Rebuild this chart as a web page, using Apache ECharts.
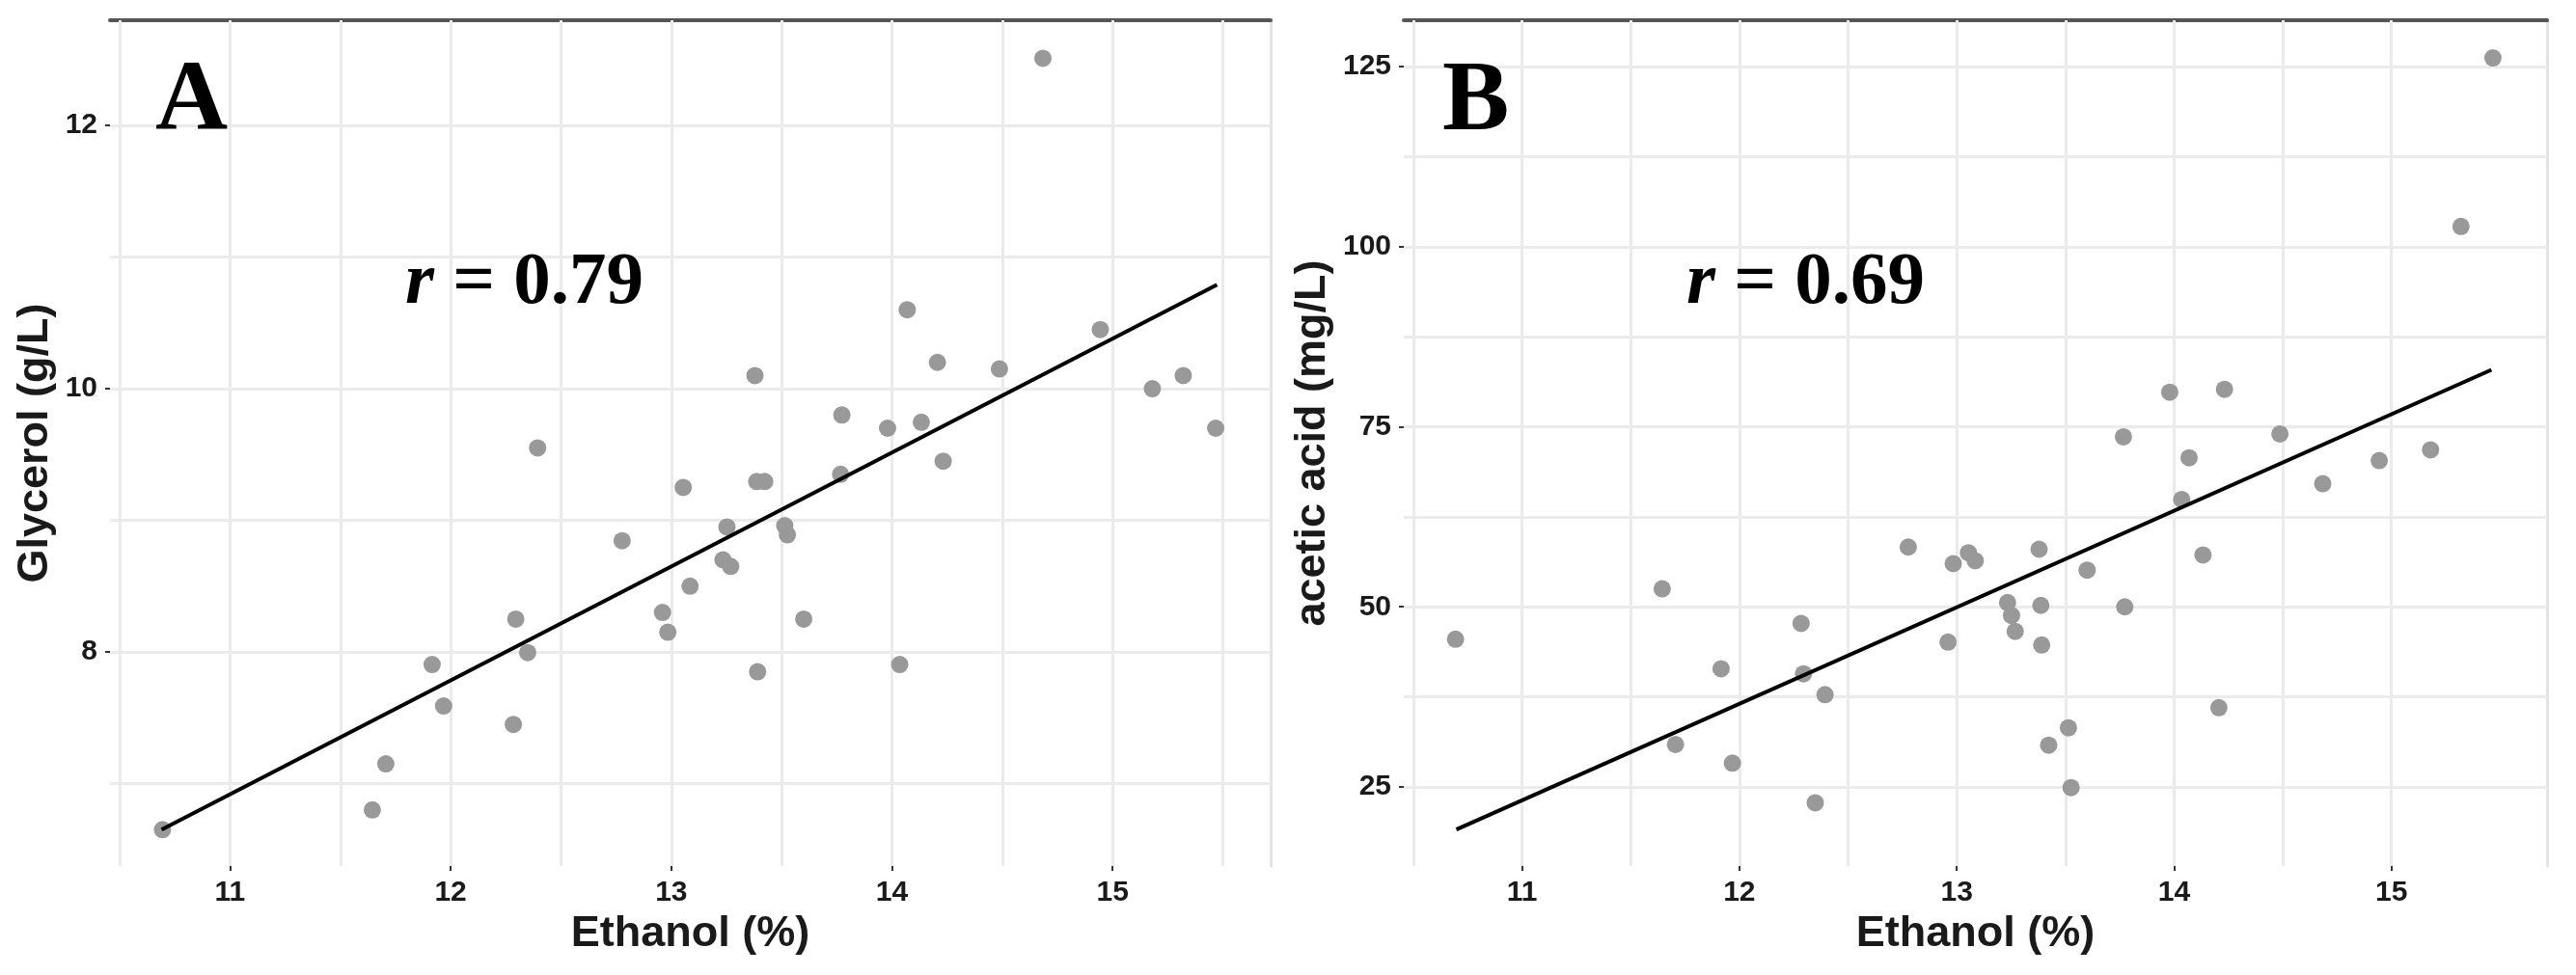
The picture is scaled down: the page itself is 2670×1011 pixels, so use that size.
<!DOCTYPE html>
<html><head><meta charset="utf-8">
<script src="https://cdn.jsdelivr.net/npm/echarts@6/dist/echarts.min.js"></script>
<style>html,body{margin:0;padding:0;background:#fff}#chart{width:2670px;height:1011px}</style>
</head><body><div id="chart"></div><script>
// ---- data ----
const ethanol = [10.694, 11.645, 11.706, 11.916, 11.968, 12.284, 12.295, 12.349, 12.394, 12.777,
  12.960, 12.984, 13.054, 13.085, 13.234, 13.252, 13.269, 13.379, 13.387, 13.391,
  13.423, 13.514, 13.526, 13.600, 13.767, 13.773, 13.980, 14.035, 14.069, 14.133,
  14.206, 14.232, 14.487, 14.684, 14.944, 15.180, 15.320, 15.467];
const glycerol = [6.65, 6.80, 7.15, 7.905, 7.59, 7.45, 8.25, 7.995, 9.55, 8.845,
  8.30, 8.15, 9.25, 8.50, 8.70, 8.95, 8.65, 10.10, 9.295, 7.85,
  9.295, 8.96, 8.89, 8.25, 9.35, 9.80, 9.70, 7.905, 10.60, 9.745,
  10.20, 9.45, 10.15, 12.51, 10.45, 10.00, 10.10, 9.70];
const aceticAcid = [45.5, 52.5, 30.9, 41.4, 28.3, 47.7, 40.7, 22.8, 37.8, 58.3,
  45.1, 56.0, 57.5, 56.4, 50.6, 48.8, 46.6, 58.0, 50.2, 44.7,
  30.8, 33.2, 24.9, 55.1, 73.6, 50.0, 79.8, 64.9, 70.7, 57.2,
  36.0, 80.2, 74.0, 67.1, 70.3, 71.8, 102.8, 126.2];
// fitted regression lines (end points)
const fitGlycerolX = [10.690, 15.473];
const fitGlycerolY = [6.65, 10.79];
const fitAceticX = [10.698, 15.460];
const fitAceticY = [19.1, 82.9];
// ticks and grid values
const xTicks = [11, 12, 13, 14, 15];
const xGridA = [10.5, 11, 11.5, 12, 12.5, 13, 13.5, 14, 14.5, 15, 15.5];
const xGridB = [10.5, 11, 11.5, 12, 12.5, 13, 13.5, 14, 14.5, 15];
const yTicksA = [8, 10, 12];
const yGridA = [7, 8, 9, 10, 11, 12];
const yTicksB = [25, 50, 75, 100, 125];
const yGridB = [25, 37.5, 50, 62.5, 75, 87.5, 100, 112.5, 125];
// axis limits
const xMin = 10.456, xMax = 15.716;
const yMinA = 6.374, yMaxA = 12.799;
const yMinB = 14.02, yMaxB = 131.43;

// ---- styles ----
const SANS = 'Liberation Sans, Arial, sans-serif';
const SERIF = 'Liberation Serif, Times New Roman, serif';
const gridColor = '#ebebeb';
const labelStyle = {fontSize: 30, fontWeight: 'bold', color: '#1a1a1a', fontFamily: SANS};
const nameStyle = {fontSize: 45, fontWeight: 'bold', color: '#1a1a1a', fontFamily: SANS};

function gridMarks(xs, ys) {
  return {
    silent: true, symbol: ['none', 'none'], z: 1, animation: false,
    label: {show: false},
    lineStyle: {color: gridColor, width: 3, type: 'solid'},
    emphasis: {disabled: true},
    data: xs.map(v => ({xAxis: v})).concat(ys.map(v => ({yAxis: v})))
  };
}
function bottomX(gi, name, gap) {
  return {
    gridIndex: gi, type: 'value', min: xMin, max: xMax, position: 'bottom',
    name: name, nameLocation: 'middle', nameGap: gap, nameTextStyle: nameStyle,
    axisLine: {show: false},
    axisTick: {show: true, customValues: xTicks, length: 5, lineStyle: {color: '#333', width: 2}},
    axisLabel: Object.assign({customValues: xTicks, margin: 13}, labelStyle),
    splitLine: {show: false}
  };
}
function topX(gi) {
  return {
    gridIndex: gi, type: 'value', min: xMin, max: xMax, position: 'top',
    axisLine: {show: true, lineStyle: {color: '#555', width: 4}},
    axisTick: {show: false}, axisLabel: {show: false}, splitLine: {show: false}
  };
}
function leftY(gi, min, max, ticks, name, gap) {
  return {
    gridIndex: gi, type: 'value', min: min, max: max, position: 'left',
    name: name, nameLocation: 'middle', nameGap: gap, nameTextStyle: nameStyle,
    axisLine: {show: false},
    axisTick: {show: true, customValues: ticks, length: 5, lineStyle: {color: '#333', width: 2}},
    axisLabel: Object.assign({customValues: ticks, margin: 13}, labelStyle),
    splitLine: {show: false}
  };
}
function rightY(gi, min, max) {
  return {
    gridIndex: gi, type: 'value', min: min, max: max, position: 'right',
    axisLine: {show: true, lineStyle: {color: '#e3e3e3', width: 3}},
    axisTick: {show: false}, axisLabel: {show: false}, splitLine: {show: false}
  };
}
function rTitle(text, left) {
  return {
    text: '{r|r} = ' + text, left: left, top: 256, padding: 0,
    textStyle: {fontFamily: SERIF, fontWeight: 'bold', fontSize: 77, color: '#000',
      rich: {r: {fontFamily: SERIF, fontWeight: 'bold', fontStyle: 'italic', fontSize: 77, color: '#000'}}}
  };
}
function letter(text, left) {
  return {
    text: text, left: left, top: 55, padding: 0,
    textStyle: {fontFamily: SERIF, fontWeight: 'bold', fontSize: 104, color: '#000'}
  };
}

const chart = echarts.init(document.getElementById('chart'), null, {renderer: 'canvas'});
chart.setOption({
  animation: false,
  backgroundColor: '#fff',
  title: [letter('A', 161), letter('B', 1495), rTitle('0.79', 420), rTitle('0.69', 1748)],
  grid: [
    {left: 114, top: 21, width: 1203, height: 877, containLabel: false},
    {left: 1455, top: 21, width: 1185, height: 877, containLabel: false}
  ],
  xAxis: [bottomX(0, 'Ethanol (%)', 46), topX(0), bottomX(1, 'Ethanol (%)', 46), topX(1)],
  yAxis: [
    leftY(0, yMinA, yMaxA, yTicksA, 'Glycerol (g/L)', 55), rightY(0, yMinA, yMaxA),
    leftY(1, yMinB, yMaxB, yTicksB, 'acetic acid (mg/L)', 72), rightY(1, yMinB, yMaxB)
  ],
  series: [
    {type: 'scatter', xAxisIndex: 0, yAxisIndex: 0, z: 3, symbol: 'circle', symbolSize: 18,
      itemStyle: {color: '#999999', opacity: 1},
      data: ethanol.map((x, i) => [x, glycerol[i]]),
      markLine: gridMarks(xGridA, yGridA)},
    {type: 'line', xAxisIndex: 0, yAxisIndex: 0, z: 4, symbol: 'none',
      lineStyle: {color: '#000', width: 4},
      data: fitGlycerolX.map((x, i) => [x, fitGlycerolY[i]])},
    {type: 'scatter', xAxisIndex: 2, yAxisIndex: 2, z: 3, symbol: 'circle', symbolSize: 18,
      itemStyle: {color: '#999999', opacity: 1},
      data: ethanol.map((x, i) => [x, aceticAcid[i]]),
      markLine: gridMarks(xGridB, yGridB)},
    {type: 'line', xAxisIndex: 2, yAxisIndex: 2, z: 4, symbol: 'none',
      lineStyle: {color: '#000', width: 4},
      data: fitAceticX.map((x, i) => [x, fitAceticY[i]])}
  ]
});
</script></body></html>
